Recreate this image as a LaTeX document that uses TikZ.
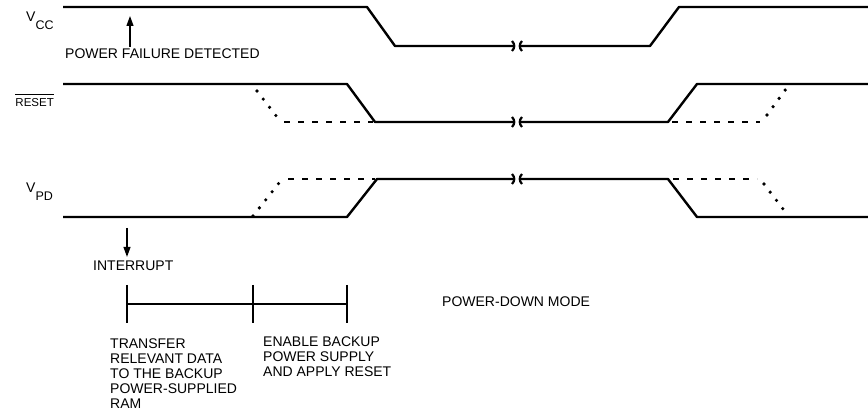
\documentclass[tikz,border=0pt]{standalone}
\usepackage{fontspec}
\setmainfont{Liberation Sans}
\usetikzlibrary{positioning,arrows.meta}

\begin{document}
\begin{tikzpicture}
        [x=1pt,y=-1pt,
        every node/.style={font=\fontsize{14}{15}\selectfont,inner sep=0pt,align=left},
        wave/.style={line width=2.4pt,line join=round},
        dashwave/.style={line width=2.2pt,dash pattern=on 6pt off 8pt},
        dotwave/.style={line width=3.6pt,line cap=round,dash pattern=on 0pt off 10.3pt},
        thin/.style={line width=1.2pt},
        brk/.style={line width=2.2pt},
        pointer/.style={line width=1.2pt,-{Triangle[length=10pt,width=7pt]}}]
        \useasboundingbox (0,0) rectangle (868,411);

        \node[anchor=base west] (vcc) at (26,22) {V\raisebox{-8pt}{\fontsize{12.5}{12}\selectfont CC}};
        \node[anchor=base east,font=\fontsize{11.5}{13}\selectfont] (rst) at (54,107) {RESET};
        \draw[line width=1pt] ([yshift=4pt]rst.north west) -- ([yshift=4pt]rst.north east);
        \node[anchor=base west] (vpd) at (26,193) {V\raisebox{-8pt}{\fontsize{12.5}{12}\selectfont PD}};

        \draw[wave] (63,7) -- (367,7) -- (395,46) -- (513,46);
        \draw[wave] (521,46) -- (650,46) -- (679,7) -- (868,7);
        \draw[wave] (63,84) -- (347,84) -- (375,122) -- (513,122);
        \draw[wave] (521,122) -- (668,122) -- (697,84) -- (868,84);
        \draw[wave] (63,217) -- (347,217) -- (377,179) -- (513,179);
        \draw[wave] (521,179) -- (668,179) -- (697,217) -- (868,217);

        \draw[dotwave] (257,91) -- (277,117);
        \draw[dashwave] (284,122) -- (373,122);
        \draw[dashwave] (672,122) -- (760,122);
        \draw[dotwave] (767,115) -- (786,89);
        \draw[dotwave] (253,216) -- (279,183);
        \draw[dashwave] (288,179) -- (375,179);
        \draw[dashwave] (673,179) -- (757,179);
        \draw[dotwave] (764,184) -- (783,209);

        \foreach \y in {46,122,179}
          {\draw[brk] (512,\y-5) .. controls (515,\y-2) and (515,\y+2) .. (512,\y+5);
           \draw[brk] (522,\y-5) .. controls (519,\y-2) and (519,\y+2) .. (522,\y+5);}

        \node[anchor=west] (pfd) at (65,54) {POWER FAILURE DETECTED};
        \coordinate (pfdtip) at (130,16);
        \draw[pointer] ([yshift=2pt]pfd.north -| pfdtip) -- (pfdtip);

        \node[anchor=west] (intr) at (93,266) {INTERRUPT};
        \coordinate (intrtail) at (127,228);
        \draw[pointer] (intrtail) -- ([yshift=4pt]intr.north -| intrtail);

        \coordinate (t1) at (127,304);
        \coordinate (t2) at (253,304);
        \coordinate (t3) at (347,304);
        \draw[thin] (t1) -- (t3);
        \foreach \t in {t1,t2,t3}
          \draw[thin] ([yshift=19pt]\t) -- ([yshift=-19pt]\t);

        \node[anchor=north west] (xfer) at (110,339) {TRANSFER\\RELEVANT DATA\\TO THE BACKUP\\POWER-SUPPLIED\\RAM};
        \node[anchor=north west] (enbl) at (263,337) {ENABLE BACKUP\\POWER SUPPLY\\AND APPLY RESET};
        \node[anchor=west] (pdm) at (442,302) {POWER-DOWN MODE};
\end{tikzpicture}
\end{document}
